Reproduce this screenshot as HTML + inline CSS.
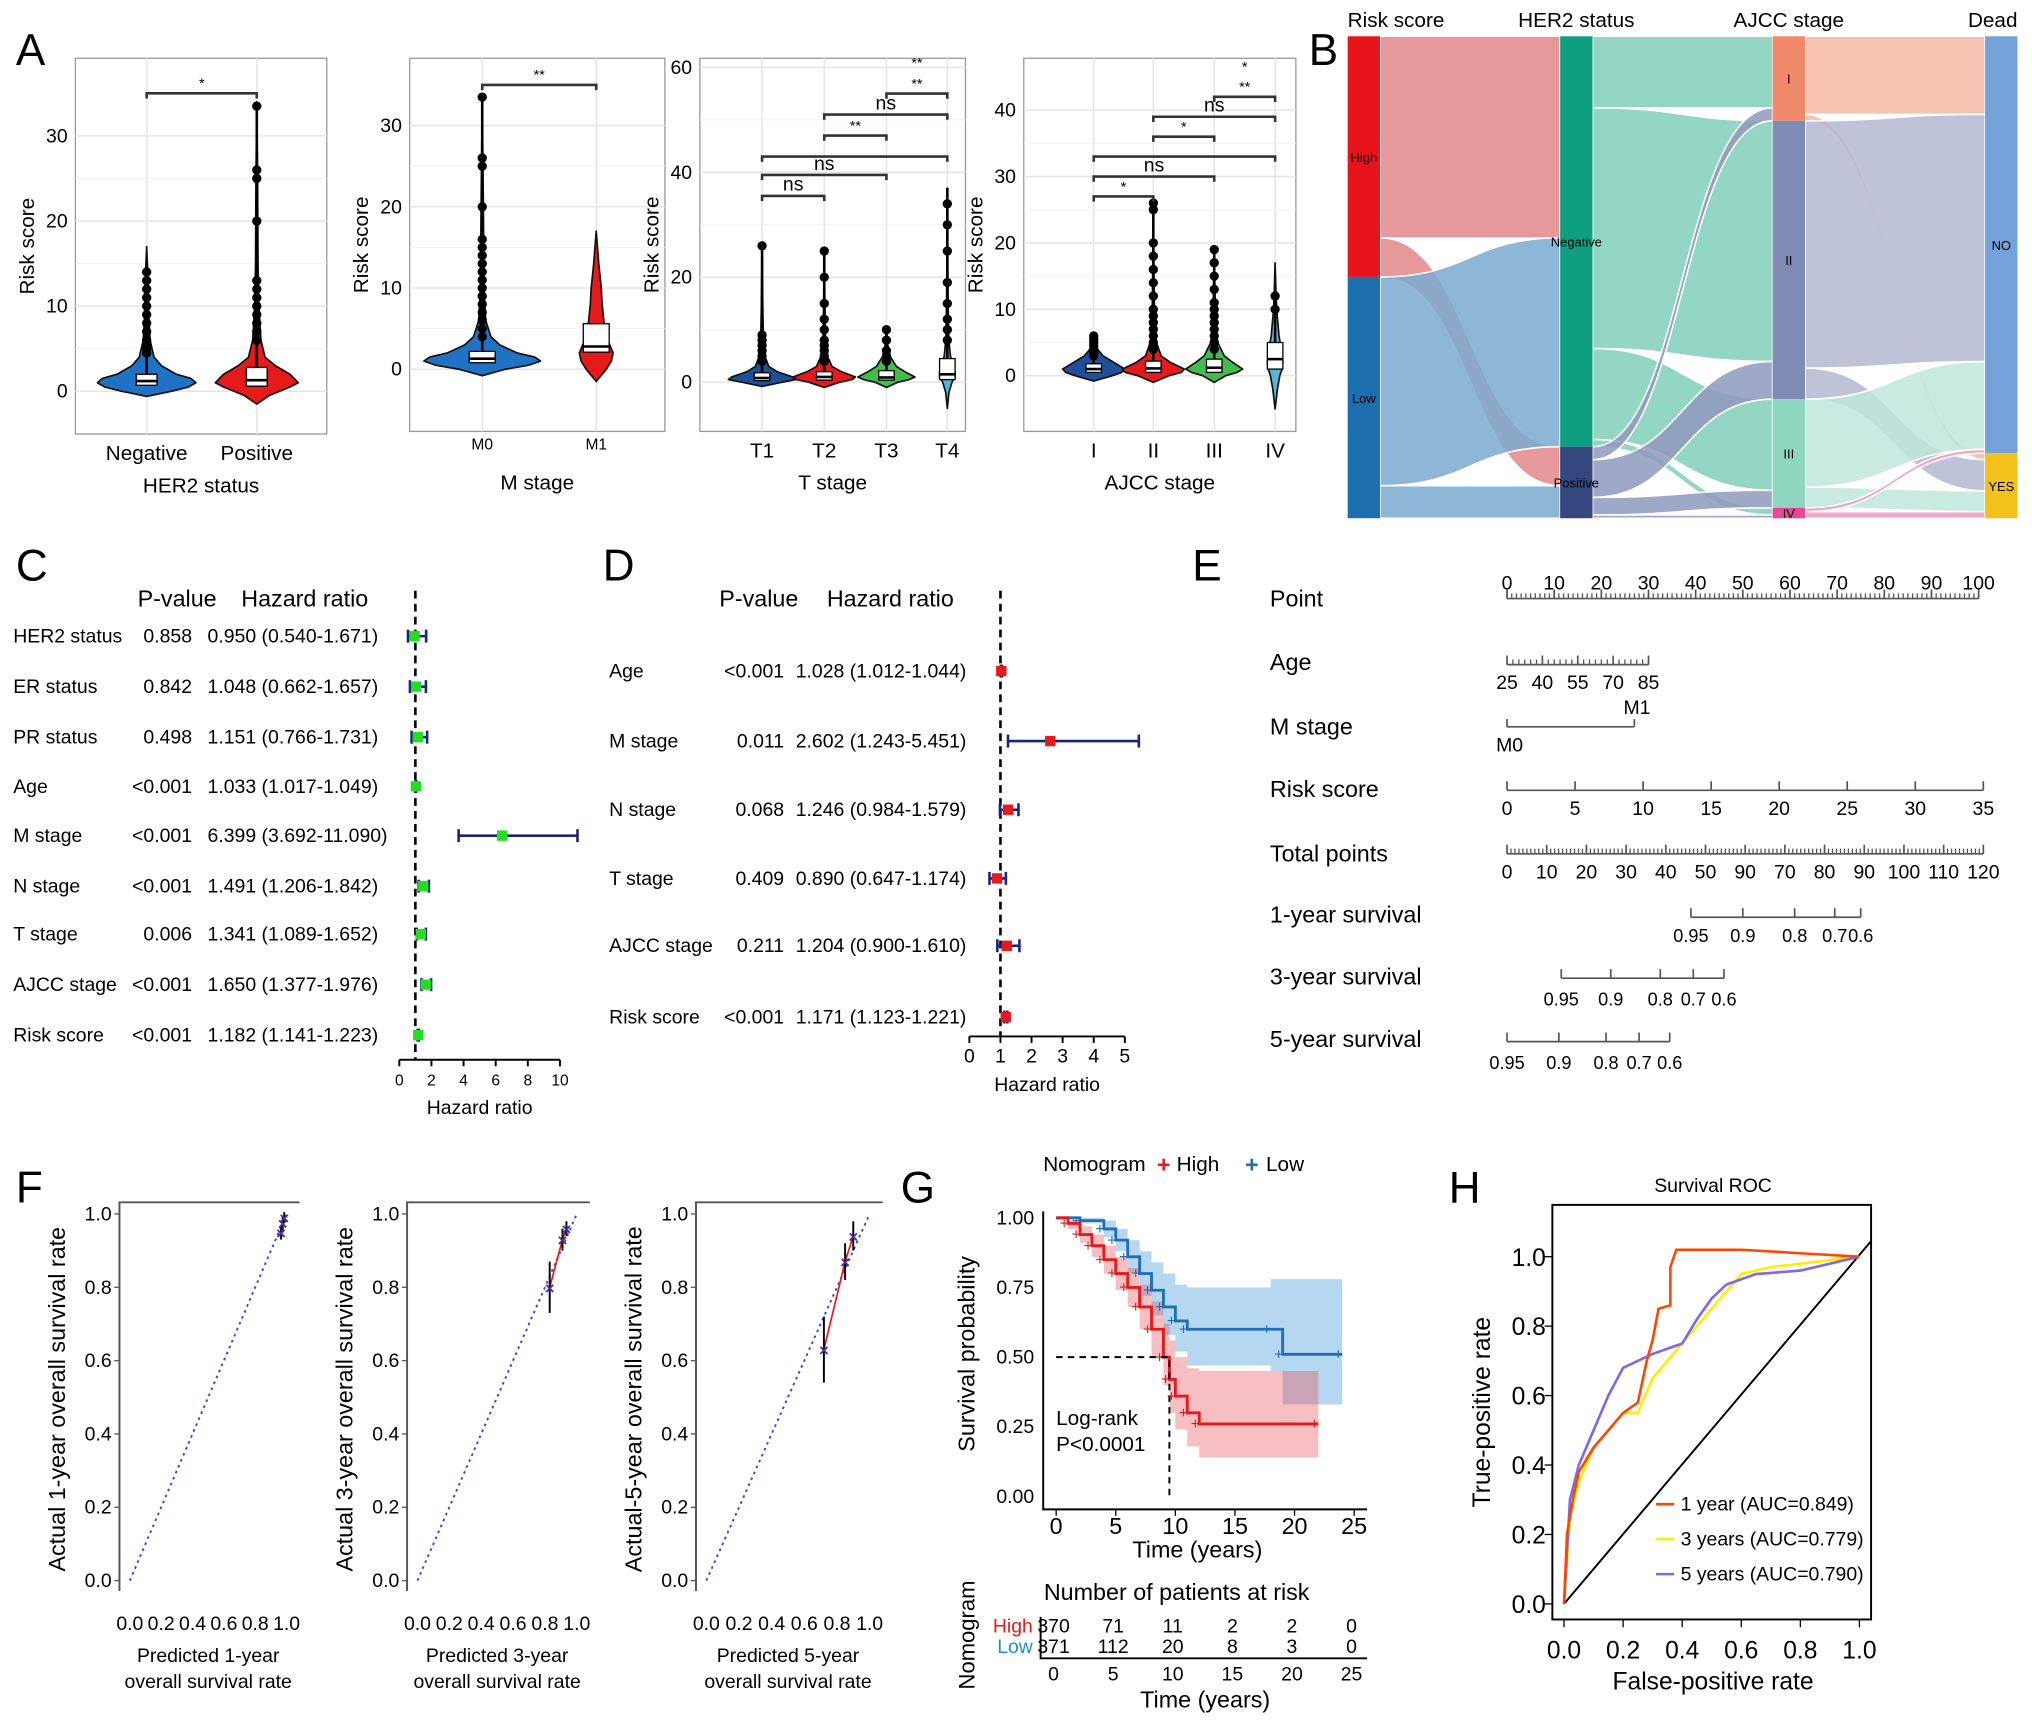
<!DOCTYPE html>
<html><head><meta charset="utf-8">
<style>
html,body{margin:0;padding:0;background:#fff;}
svg{display:block;font-family:"Liberation Sans",sans-serif;}
</style></head>
<body>
<svg id="fig" xmlns="http://www.w3.org/2000/svg" width="2032" height="1727" viewBox="0 0 1568 1333">
<rect x="0" y="0" width="1568" height="1333" fill="#fff"/>
<g font-size="34" fill="#000">
<text x="12" y="50">A</text>
<text x="1010" y="50">B</text>
<text x="12" y="448">C</text>
<text x="465" y="448">D</text>
<text x="920" y="448">E</text>
<text x="12" y="928">F</text>
<text x="695" y="928">G</text>
<text x="1118" y="928">H</text>
</g>
<g id="root"></g>
</svg>
<script>
// ---------- DATA ----------
const a1Categories=['Negative','Positive'];
const a1Ticks=[0,10,20,30];
const a1ViolinValues=[[-0.6,0,0.5,1,1.5,2,3,4,6,9,13,17],[-1.5,-0.5,0.5,1,2,3,4,6,10,15,25,34]];
const a1ViolinDensity=[[0,0.5,0.85,1,0.9,0.6,0.3,0.15,0.07,0.04,0.03,0],[0,0.3,0.8,1,0.8,0.45,0.2,0.1,0.05,0.03,0.02,0]];
const a1Q1=[0.7,0.6], a1Median=[1.2,1.3], a1Q3=[2.0,2.8], a1Max=[14,33.5];
const a1Outliers=[[4.5,5,5.5,6,7,8,9,10,11,12,13,14],[6,7,8,9,10,11,12,13,20,25,26,33.5]];
const a1Brackets=[[0,1,35,'*']];
const a2Categories=['M0','M1'];
const a2Ticks=[0,10,20,30];
const a2ViolinValues=[[-0.8,0,0.5,1,1.5,2,3,4,6,10,20,33],[-1.5,0,1,2,3,4,6,8,10,13,17]];
const a2ViolinDensity=[[0,0.4,0.8,1,0.9,0.6,0.3,0.15,0.06,0.03,0.02,0],[0,0.6,0.9,1,0.8,0.6,0.45,0.35,0.3,0.15,0]];
const a2Q1=[0.8,2.1], a2Median=[1.3,2.8], a2Q3=[2.2,5.6], a2Max=[33.5,5.6];
const a2Outliers=[[4,5,6,7,8,9,10,11,12,13,14,15,16,20,25,26,33.5],[]];
const a2Brackets=[[0,1,35,'**']];
const a3Categories=['T1','T2','T3','T4'];
const a3Ticks=[0,20,40,60];
const a3ViolinValues=[[-0.8,0,0.5,1,2,3,5,8,15,26],[-1,0,0.5,1,2,3,5,8,15,25],[-1,0,0.5,1,2,3,5,7,10],[-5,-2,0,1,2,3,5,8,15,25,37]];
const a3ViolinDensity=[[0,0.6,1,0.9,0.45,0.2,0.08,0.04,0.02,0],[0,0.5,0.9,1,0.55,0.25,0.1,0.04,0.02,0],[0,0.4,0.8,1,0.65,0.35,0.12,0.05,0],[0,0.1,0.3,0.5,0.5,0.4,0.2,0.1,0.05,0.02,0]];
const a3Q1=[0.3,0.4,0.4,0.5], a3Median=[0.8,1,0.9,1.5], a3Q3=[1.8,2,2.2,4.5], a3Max=[26,25,10,37];
const a3Outliers=[[4,5,6,7,8,9,26],[4,5,6,7,8,10,12,15,20,25],[4,5,6,8,10],[8,10,12,15,19,25,30,34]];
const a3Brackets=[[0,1,35.5,'ns'],[0,2,39.5,'ns'],[0,3,43,''],[1,2,47,'**'],[1,3,51,'ns'],[2,3,55,'**'],[2,3,59,'**',1]];
const a4Categories=['I','II','III','IV'];
const a4Ticks=[0,10,20,30,40];
const a4ViolinValues=[[-0.8,0,0.5,1,2,3,4,5,6],[-1,0,0.5,1,2,3,5,8,15,26],[-1,0,0.5,1,2,3,5,8,12,19],[-5,-2,0,1,2,4,6,10,13,17]];
const a4ViolinDensity=[[0,0.6,0.9,1,0.65,0.3,0.12,0.05,0],[0,0.5,0.9,1,0.55,0.25,0.1,0.04,0.02,0],[0,0.4,0.8,1,0.65,0.35,0.12,0.05,0.03,0],[0,0.15,0.3,0.45,0.5,0.4,0.25,0.1,0.05,0]];
const a4Q1=[0.5,0.5,0.5,1], a4Median=[1,1.1,1.2,2.5], a4Q3=[1.8,2.2,2.5,5], a4Max=[6,26,19,12];
const a4Outliers=[[3,3.5,4,4.5,5,5.5,6],[4,5,6,7,8,9,10,12,14,16,18,20,25,26],[4,5,6,7,8,9,10,11,13,15,17,19],[10,12]];
const a4Brackets=[[0,1,27,'*'],[0,2,30,'ns'],[0,3,33,''],[1,2,36,'*'],[1,3,39,'ns'],[2,3,42,'**'],[2,3,45,'*',1]];
const bColumns=['Risk score','HER2 status','AJCC stage','Dead'];
const bNodes=[['High','Low'],['Negative','Positive'],['I','II','III','IV'],['NO','YES']];
const bCounts=[[370,371],[631,110],[130,428,167,16],[641,100]];
const bFlows1=[[310,60],[321,50]];
const bFlows2=[[110,370,140,11],[20,58,27,5]];
const bFlows3=[[120,10],[380,48],[135,32],[6,10]];
const cVars=['HER2 status','ER status','PR status','Age','M stage','N stage','T stage','AJCC stage','Risk score'];
const cPvals=['0.858','0.842','0.498','<0.001','<0.001','<0.001','0.006','<0.001','<0.001'];
const cHR=[0.950,1.048,1.151,1.033,6.399,1.491,1.341,1.650,1.182];
const cLo=[0.540,0.662,0.766,1.017,3.692,1.206,1.089,1.377,1.141];
const cHi=[1.671,1.657,1.731,1.049,11.090,1.842,1.652,1.976,1.223];
const cTicks=[0,2,4,6,8,10];
const dVars=['Age','M stage','N stage','T stage','AJCC stage','Risk score'];
const dPvals=['<0.001','0.011','0.068','0.409','0.211','<0.001'];
const dHR=[1.028,2.602,1.246,0.890,1.204,1.171];
const dLo=[1.012,1.243,0.984,0.647,0.900,1.123];
const dHi=[1.044,5.451,1.579,1.174,1.610,1.221];
const dTicks=[0,1,2,3,4,5];
const ePointTicks=[0,10,20,30,40,50,60,70,80,90,100];
const eAgeTicks=[25,40,55,70,85];
const eRiskTicks=[0,5,10,15,20,25,30,35];
const eTotalTicks=[0,10,20,30,40,50,90,70,80,90,100,110,120];
const eSurv1Labels=['0.95','0.9','0.8','0.7','0.6'];
const eSurv1Points=[39,50,61,69.5,75];
const eSurv3Labels=['0.95','0.9','0.8','0.7','0.6'];
const eSurv3Points=[11.5,22,32.5,39.5,46];
const eSurv5Labels=['0.95','0.9','0.8','0.7','0.6'];
const eSurv5Points=[0,11,21,28,34.5];
const fTicks=[0,0.2,0.4,0.6,0.8,1.0];
const f1Pred=[0.965,0.975,0.985], f1Act=[0.95,0.975,0.99], f1Err=[0.02,0.02,0.015];
const f2Pred=[0.83,0.91,0.935], f2Act=[0.80,0.93,0.96], f2Err=[0.07,0.03,0.02];
const f3Pred=[0.72,0.85,0.9], f3Act=[0.63,0.87,0.94], f3Err=[0.09,0.05,0.04];
const gTicksX=[0,5,10,15,20,25];
const gTicksY=[0,0.25,0.5,0.75,1.0];
const gHighT=[0,1,2,3,4,5,6,7,8,9,9.5,10,11,12,22];
const gHighS=[1,0.98,0.94,0.9,0.85,0.8,0.75,0.68,0.6,0.5,0.42,0.36,0.3,0.26,0.26];
const gHighLo=[1,0.96,0.91,0.86,0.8,0.74,0.68,0.6,0.5,0.4,0.3,0.24,0.18,0.14,0.14];
const gHighHi=[1,0.99,0.97,0.94,0.9,0.86,0.82,0.76,0.7,0.62,0.56,0.5,0.46,0.45,0.45];
const gLowT=[0,2,4,5,6,7,8,9,10,11,18,19,24];
const gLowS=[1,0.99,0.96,0.92,0.86,0.8,0.74,0.68,0.63,0.6,0.6,0.51,0.51];
const gLowLo=[1,0.98,0.93,0.88,0.8,0.72,0.65,0.58,0.52,0.47,0.45,0.33,0.33];
const gLowHi=[1,1,0.99,0.96,0.92,0.88,0.84,0.8,0.76,0.75,0.78,0.78,0.78];
const gAtRiskHigh=[370,71,11,2,2,0];
const gAtRiskLow=[371,112,20,8,3,0];
const hTicks=[0,0.2,0.4,0.6,0.8,1.0];
const h1Fpr=[0,0.01,0.03,0.05,0.1,0.15,0.2,0.25,0.28,0.3,0.32,0.36,0.36,0.38,0.45,0.6,0.8,1];
const h1Tpr=[0,0.2,0.3,0.38,0.45,0.5,0.55,0.58,0.7,0.76,0.85,0.86,0.97,1.02,1.02,1.02,1.01,1];
const h3Fpr=[0,0.02,0.05,0.1,0.15,0.2,0.25,0.3,0.35,0.4,0.45,0.5,0.55,0.6,0.7,0.8,1];
const h3Tpr=[0,0.25,0.35,0.45,0.5,0.55,0.55,0.65,0.7,0.75,0.8,0.85,0.9,0.95,0.97,0.98,1];
const h5Fpr=[0,0.02,0.05,0.1,0.15,0.2,0.3,0.4,0.45,0.5,0.55,0.65,0.8,1];
const h5Tpr=[0,0.3,0.4,0.5,0.6,0.68,0.72,0.75,0.82,0.88,0.92,0.95,0.96,1];
const hLegend=['1 year (AUC=0.849)','3 years (AUC=0.779)','5 years (AUC=0.790)'];

// ---------- HELPERS ----------
const NS='http://www.w3.org/2000/svg';
const root=document.getElementById('root');
function mk(tag,attrs,parent){const e=document.createElementNS(NS,tag);for(const k in attrs)e.setAttribute(k,attrs[k]);(parent||root).appendChild(e);return e;}
function tx(x,y,s,size,anchor,parent,extra){const e=mk('text',Object.assign({x:x,y:y,'font-size':size,'text-anchor':anchor||'start',fill:'#000'},extra||{}),parent);e.textContent=s;return e;}

// ---------- PANEL A ----------
function violinPanel(L,cats,ticks,vv,vd,q1,med,q3,mx,outl,brk){
  const g=mk('g',{});
  
  
  const ys=v=>L.y0-v*L.k;
  const bg=mk('rect',{x:L.x0,y:L.top,width:L.x1-L.x0,height:L.bot-L.top,fill:'#fff',stroke:'#999','stroke-width':1},g);
  
  
  for(let i=0;i<ticks.length;i++){
    const gl=mk('line',{x1:L.x0,x2:L.x1,y1:ys(ticks[i]),y2:ys(ticks[i]),stroke:'#e6e6e6','stroke-width':1.2},g);
    
    
    if(i<ticks.length-1){const m=(ticks[i]+ticks[i+1])/2;const gm=mk('line',{x1:L.x0,x2:L.x1,y1:ys(m),y2:ys(m),stroke:'#f2f2f2','stroke-width':0.8},g);
      
      }
    const t=tx(L.x0-6,ys(ticks[i])+5,String(ticks[i]),15,'end',g);
    
    
  }
  for(let c=0;c<cats.length;c++){
    const cx=L.xs[c];
    const vl=mk('line',{x1:cx,x2:cx,y1:L.top,y2:L.bot,stroke:'#e6e6e6','stroke-width':1.2},g);
    
    
  }
  for(let c=0;c<cats.length;c++){
    const cx=L.xs[c];const v=vv[c],d=vd[c];const w=L.w[c];
    let p='M'+(cx+d[0]*w)+','+ys(v[0]);
    for(let i=1;i<v.length;i++)p+=' L'+(cx+d[i]*w)+','+ys(v[i]);
    for(let i=v.length-1;i>=0;i--)p+=' L'+(cx-d[i]*w)+','+ys(v[i]);
    const vio=mk('path',{d:p+'Z',fill:L.colors[c],stroke:'#111','stroke-width':1.3,'stroke-linejoin':'round'},g);
    
    
    const wh=mk('line',{x1:cx,x2:cx,y1:ys(q3[c]),y2:ys(mx[c]),stroke:'#000','stroke-width':2},g);
    
    
    for(const o of outl[c]){const dot=mk('circle',{cx:cx,cy:ys(o),r:3.6,fill:'#000'},g);
      
      }
    const bw=L.bw;
    const bx=mk('rect',{x:cx-bw/2,y:ys(q3[c]),width:bw,height:Math.max(2,ys(q1[c])-ys(q3[c])),fill:'#fff',stroke:'#000','stroke-width':1},g);
    
    
    const md=mk('line',{x1:cx-bw/2,x2:cx+bw/2,y1:ys(med[c]),y2:ys(med[c]),stroke:'#000','stroke-width':2},g);
    
    
    const tl=tx(cx,L.bot+(L.small?14:20),cats[c],L.small?12:16,'middle',g);
    
    
  }
  for(const b of brk){
    const y=ys(b[2]);const xa=L.xs[b[0]],xb=L.xs[b[1]];
    if(!b[4]){
      const bl=mk('path',{d:'M'+xa+','+(y+4)+' L'+xa+','+y+' L'+xb+','+y+' L'+xb+','+(y+4),fill:'none',stroke:'#333','stroke-width':2},g);
      
      
    }
    if(b[3]){const st=tx((xa+xb)/2,y-(b[3]==='ns'?4:-2)-(b[3]==='ns'?0:6),b[3],b[3]==='ns'?15:11,'middle',g);
      
      }
  }
  const xt=tx((L.x0+L.x1)/2,L.bot+45,L.xtitle,16,'middle',g);
  
  
  const yt=tx(0,0,'Risk score',16,'middle',g,{transform:'translate('+(L.x0-32)+','+((L.top+L.bot)/2)+') rotate(-90)'});
  
  
}
violinPanel({name:'panel-a-her2',x0:58,x1:252,top:45,bot:335,y0:302,k:6.57,xs:[113,198],w:[38,32],bw:16,colors:['#1f72c4','#e41a1c'],xtitle:'HER2 status'},a1Categories,a1Ticks,a1ViolinValues,a1ViolinDensity,a1Q1,a1Median,a1Q3,a1Max,a1Outliers,a1Brackets);
violinPanel({name:'panel-a-mstage',x0:316,x1:513,top:45,bot:333,y0:285,k:6.27,xs:[372,460],w:[45,13],bw:20,small:true,colors:['#1f72c4','#e41a1c'],xtitle:'M stage'},a2Categories,a2Ticks,a2ViolinValues,a2ViolinDensity,a2Q1,a2Median,a2Q3,a2Max,a2Outliers,a2Brackets);
violinPanel({name:'panel-a-tstage',x0:540,x1:745,top:45,bot:333,y0:295,k:4.05,xs:[588,636,684,731],w:[26,24,22,12],bw:12,colors:['#1f4f9a','#e41a1c','#3fbf4a','#56b4d9'],xtitle:'T stage'},a3Categories,a3Ticks,a3ViolinValues,a3ViolinDensity,a3Q1,a3Median,a3Q3,a3Max,a3Outliers,a3Brackets);
violinPanel({name:'panel-a-ajcc',x0:790,x1:1000,top:45,bot:333,y0:290,k:5.125,xs:[844,890,937,984],w:[24,24,22,12],bw:12,colors:['#1f4f9a','#e41a1c','#3fbf4a','#56b4d9'],xtitle:'AJCC stage'},a4Categories,a4Ticks,a4ViolinValues,a4ViolinDensity,a4Q1,a4Median,a4Q3,a4Max,a4Outliers,a4Brackets);

// ---------- PANEL B ----------
(function(){
  const g=mk('g',{});
  
  
  const colX=[1040,1204,1368,1532], nw=25, top=28, total=741, H=372;
  const k=H/total;
  const nodeCol=[['#e8141c','#1e6fb0'],['#0e9e80','#34477f'],['#f08a6a','#7f8bb5','#8fd6c0','#e9489a'],['#76a2da','#f2c21b']];
  const flowCol=[['#e3868a','#7aaad0'],['#7fcfb8','#8f99bd'],['#f4b9a6','#b3b9d1','#bfe6da','#f09abf']];
  const nodeY=[];
  for(let c=0;c<4;c++){nodeY.push([]);let y=top;for(let n=0;n<bCounts[c].length;n++){nodeY[c].push(y);y+=bCounts[c][n]*k;}}
  const flows=[bFlows1,bFlows2,bFlows3];
  for(let c=0;c<3;c++){
    const F=flows[c];
    const x0=colX[c]+nw, x1=colX[c+1], xm=(x0+x1)/2;
    const outO=nodeY[c].slice(), inO=nodeY[c+1].slice();
    for(let s=0;s<F.length;s++){
      for(let t=0;t<F[s].length;t++){
        const h=F[s][t]*k;
        const ya=outO[s], yb=inO[t];
        outO[s]+=h; inO[t]+=h;
        const d='M'+x0+','+ya+' C'+xm+','+ya+' '+xm+','+yb+' '+x1+','+yb+' L'+x1+','+(yb+h)+' C'+xm+','+(yb+h)+' '+xm+','+(ya+h)+' '+x0+','+(ya+h)+'Z';
        const fp=mk('path',{d:d,fill:flowCol[c][s],'fill-opacity':0.85,stroke:'#fff','stroke-width':1.2},g);
        
        
      }
    }
  }
  for(let c=0;c<4;c++){
    for(let n=0;n<bCounts[c].length;n++){
      const h=bCounts[c][n]*k;
      const r=mk('rect',{x:colX[c],y:nodeY[c][n],width:nw,height:h,fill:nodeCol[c][n]},g);
      
      
      const lb=tx(colX[c]+nw/2,nodeY[c][n]+h/2+4,bNodes[c][n],10,'middle',g,{'font-size':10});
      
      
    }
    const ct=tx(colX[c]+(c===3?nw:(c===0?0:nw/2)),21,bColumns[c],16,c===3?'end':(c===0?'start':'middle'),g);
    
    
  }
})();

// ---------- FOREST PLOTS ----------
function forest(name,vars,pv,hr,lo,hi,ticks,L){
  const g=mk('g',{});
  
  
  const xs=v=>L.ax0+v*L.k;
  const h1=tx(L.px,L.hy,'P-value',18,'start',g);
  
  
  const h2=tx(L.hrx+L.hrhead,L.hy,'Hazard ratio',18,'start',g);
  
  
  const dl=mk('line',{x1:xs(1),x2:xs(1),y1:L.hy-12,y2:L.axy,stroke:'#000','stroke-width':2,'stroke-dasharray':'6,4'},g);
  
  
  for(let i=0;i<vars.length;i++){
    const y=L.rows[i];
    const a=tx(L.lx,y+5,vars[i],15,'start',g);
    
    
    const b=tx(L.px+L.pw,y+5,pv[i],15,'end',g);
    
    
    const c=tx(L.hrx,y+5,hr[i].toFixed(3)+' ('+lo[i].toFixed(3)+'-'+hi[i].toFixed(3)+')',15,'start',g);
    
    
    const ci=mk('line',{x1:xs(lo[i]),x2:xs(hi[i]),y1:y,y2:y,stroke:'#1a237e','stroke-width':2},g);
    
    
    for(const e of [lo[i],hi[i]]){const cap=mk('line',{x1:xs(e),x2:xs(e),y1:y-5,y2:y+5,stroke:'#1a237e','stroke-width':2},g);
      
      }
    const sq=mk('rect',{x:xs(hr[i])-4,y:y-4,width:8,height:8,fill:L.color},g);
    
    
  }
  const ax=mk('line',{x1:xs(ticks[0]),x2:xs(ticks[ticks.length-1]),y1:L.axy,y2:L.axy,stroke:'#000','stroke-width':1.5},g);
  
  
  for(const t of ticks){
    const tk=mk('line',{x1:xs(t),x2:xs(t),y1:L.axy,y2:L.axy+5,stroke:'#000','stroke-width':1.5},g);
    
    
    const tl=tx(xs(t),L.axy+20,String(t),L.tfs,'middle',g);
    
    
  }
  const ttl=tx((xs(ticks[0])+xs(ticks[ticks.length-1]))/2,L.axy+42,'Hazard ratio',15,'middle',g);
  
  
}
forest('panel-c-univariate-forest',cVars,cPvals,cHR,cLo,cHi,cTicks,{lx:10,px:106,pw:42,hrx:160,hrhead:26,hy:468,rows:[491,530,569,607,645,684,721,760,799],ax0:308,k:12.4,axy:818,color:'#22dd22',tfs:12});
forest('panel-d-multivariate-forest',dVars,dPvals,dHR,dLo,dHi,dTicks,{lx:470,px:555,pw:50,hrx:614,hrhead:24,hy:468,rows:[518,572,625,678,730,785],ax0:748,k:24,axy:800,color:'#e41a1c',tfs:15});

// ---------- PANEL E NOMOGRAM ----------
(function(){
  const g=mk('g',{});
  
  
  const X0=1163, P=3.64;
  const px=p=>X0+p*P;
  const labels=['Point','Age','M stage','Risk score','Total points','1-year survival','3-year survival','5-year survival'];
  const ly=[462,511,561,609,659,706,754,802];
  for(let i=0;i<labels.length;i++){const t=tx(980,ly[i]+6,labels[i],18,'start',g);
    
    }
  function scale(x0,x1,y,ticks,tickx,labelY,minor,fs){
    const l=mk('line',{x1:x0,x2:x1,y1:y,y2:y,stroke:'#555','stroke-width':1.3},g);
    
    
    if(minor){for(let x=x0;x<=x1+0.1;x+=minor){const m=mk('line',{x1:x,x2:x,y1:y,y2:y-4,stroke:'#555','stroke-width':1},g);
      
      }}
    for(let i=0;i<ticks.length;i++){
      const tk=mk('line',{x1:tickx[i],x2:tickx[i],y1:y,y2:y-7,stroke:'#555','stroke-width':1.3},g);
      
      
      const t=tx(tickx[i],labelY,String(ticks[i]),fs||15,'middle',g);
      
      
    }
  }
  scale(px(0),px(100),462,ePointTicks,ePointTicks.map(v=>px(v)),455,P,15);
  scale(px(0),px(30),513,eAgeTicks,eAgeTicks.map(v=>px((v-25)*30/60)),532,P*1.25,15);
  const ml=mk('line',{x1:px(0),x2:px(27),y1:561,y2:561,stroke:'#555','stroke-width':1.3},g);
  
  
  for(const p of [0,27]){const mt=mk('line',{x1:px(p),x2:px(p),y1:561,y2:555,stroke:'#555','stroke-width':1.3},g);
    
    }
  const m1=tx(px(27)+2,551,'M1',15,'middle',g);
  
  
  const m0=tx(px(0)+2,580,'M0',15,'middle',g);
  
  
  scale(px(0),px(101),610,eRiskTicks,eRiskTicks.map(v=>px(v*101/35)),629,null,15);
  scale(px(0),px(101),659,eTotalTicks,eTotalTicks.map((v,i)=>px(i*101/12)),678,P/1.2*1.01,15);
  scale(px(eSurv1Points[0]),px(eSurv1Points[4]),708,eSurv1Labels,eSurv1Points.map(v=>px(v)),727,null,14);
  scale(px(eSurv3Points[0]),px(eSurv3Points[4]),755,eSurv3Labels,eSurv3Points.map(v=>px(v)),776,null,14);
  scale(px(eSurv5Points[0]),px(eSurv5Points[4]),804,eSurv5Labels,eSurv5Points.map(v=>px(v)),825,null,14);
})();

// ---------- PANEL F CALIBRATION ----------
function calib(name,pred,act,err,L,ylab,xl1,xl2){
  const g=mk('g',{});
  
  
  const xs=v=>L.x0+v*L.kx, ys=v=>1220-v*283;
  const fr=mk('path',{d:'M'+(L.x0-8)+',1228 L'+(L.x0-8)+',928 L'+(L.x0+L.kx+10)+',928',fill:'none',stroke:'#555','stroke-width':1.5},g);
  
  
  const dg=mk('line',{x1:xs(0),y1:ys(0),x2:xs(1.0),y2:ys(1.0),stroke:'#4444cc','stroke-width':1.5,'stroke-dasharray':'2,3'},g);
  
  
  for(const t of fTicks){
    const yl=tx(L.x0-14,ys(t)+5,t.toFixed(1),15,'end',g);
    
    
    const ytk=mk('line',{x1:L.x0-8,x2:L.x0-12,y1:ys(t),y2:ys(t),stroke:'#555'},g);
    
    
    const xl=tx(xs(t),1258,t.toFixed(1),15,'middle',g);
    
    
  }
  let d='';
  for(let i=0;i<pred.length;i++)d+=(i?' L':'M')+xs(pred[i])+','+ys(act[i]);
  const ln=mk('path',{d:d,fill:'none',stroke:'#e41a1c','stroke-width':1.3},g);
  
  
  for(let i=0;i<pred.length;i++){
    const eb=mk('line',{x1:xs(pred[i]),x2:xs(pred[i]),y1:ys(act[i]-err[i]),y2:ys(act[i]+err[i]),stroke:'#000','stroke-width':1.5},g);
    
    
    const pt=tx(xs(pred[i]),ys(act[i])+5,'×',13,'middle',g,{fill:'#4b2ea0','font-weight':'bold'});
    
    
  }
  const yt=tx(0,0,ylab,18,'middle',g,{transform:'translate('+(L.x0-50)+',1080) rotate(-90)'});
  
  
  const x1=tx(xs(0.5),1283,xl1,15,'middle',g);
  
  
  const x2=tx(xs(0.5),1303,xl2,15,'middle',g);
  
  
}
calib('panel-f-calibration-1yr',f1Pred,f1Act,f1Err,{x0:100,kx:121},'Actual 1-year overall survival rate','Predicted 1-year','overall survival rate');
calib('panel-f-calibration-3yr',f2Pred,f2Act,f2Err,{x0:322,kx:123},'Actual 3-year overall survival rate','Predicted 3-year','overall survival rate');
calib('panel-f-calibration-5yr',f3Pred,f3Act,f3Err,{x0:545,kx:126},'Actual-5-year overall survival rate','Predicted 5-year','overall survival rate');

// ---------- PANEL G KM ----------
(function(){
  const g=mk('g',{});
  
  
  const xs=t=>815+t*9.2, ys=s=>1155-s*215;
  function band(T,Lo,Hi,col,nm){
    let up='',dn='';
    for(let i=0;i<T.length;i++){const xn=i<T.length-1?xs(T[i+1]):xs(T[i]);up+=(i?' L':'M')+xs(T[i])+','+ys(Hi[i])+' L'+xn+','+ys(Hi[i]);}
    for(let i=T.length-1;i>=0;i--){const xn=i<T.length-1?xs(T[i+1]):xs(T[i]);dn+=' L'+xn+','+ys(Lo[i])+' L'+xs(T[i])+','+ys(Lo[i]);}
    const b=mk('path',{d:up+dn+'Z',fill:col,'fill-opacity':0.35},g);
    
    
  }
  function curve(T,S,col,nm){
    let d='';
    for(let i=0;i<T.length;i++){d+=(i?' L'+xs(T[i])+','+ys(S[i-1])+' L':'M')+xs(T[i])+','+ys(S[i]);}
    const c=mk('path',{d:d,fill:'none',stroke:col,'stroke-width':2.2},g);
    
    
    for(let i=1;i<T.length;i+=1){const cm=tx(xs(T[i])-3,ys(S[i])+4,'+',12,'middle',g,{fill:col});
      
      }
  }
  band(gLowT,gLowLo,gLowHi,'#2b8cd0','ci-band-low');
  band(gHighT,gHighLo,gHighHi,'#e8474c','ci-band-high');
  curve(gLowT,gLowS,'#1f6fb8','km-curve-low');
  curve(gHighT,gHighS,'#e41a1c','km-curve-high');
  const md=mk('path',{d:'M'+xs(0)+','+ys(0.5)+' L'+xs(9.5)+','+ys(0.5)+' L'+xs(9.5)+','+ys(0),fill:'none',stroke:'#000','stroke-width':1.5,'stroke-dasharray':'5,4'},g);
  
  
  const ax=mk('path',{d:'M805,935 L805,1165 L1055,1165',fill:'none',stroke:'#000','stroke-width':1.5},g);
  
  
  for(const t of gTicksY){const l=tx(798,ys(t)+5,t.toFixed(2),15,'end',g);
    
    }
  for(const t of gTicksX){const l=tx(xs(t),1184,String(t),18,'middle',g);
    
    
    const tk=mk('line',{x1:xs(t),x2:xs(t),y1:1165,y2:1170,stroke:'#000'},g);
    
    }
  const xt=tx(924,1202,'Time (years)',18,'middle',g);
  
  
  const yt=tx(0,0,'Survival probability',18,'middle',g,{transform:'translate(752,1045) rotate(-90)'});
  
  
  const lr=tx(815,1100,'Log-rank',16,'start',g);
  
  
  const lp=tx(815,1120,'P<0.0001',16,'start',g);
  
  
  const lg=tx(805,904,'Nomogram',16,'start',g);
  
  
  const k1=tx(898,905,'+',18,'middle',g,{fill:'#e41a1c','font-weight':'bold'});
  
  
  const l1=tx(908,904,'High',16,'start',g);
  
  
  const k2=tx(966,905,'+',18,'middle',g,{fill:'#1f6fb8','font-weight':'bold'});
  
  
  const l2=tx(977,904,'Low',16,'start',g);
  
  
  const rt=tx(908,1235,'Number of patients at risk',18,'middle',g);
  
  
  const rx=t=>813+t*9.2;
  for(let i=0;i<gAtRiskHigh.length;i++){
    const t=gTicksX[i];
    const a=tx(rx(t),1260,String(gAtRiskHigh[i]),15,'middle',g);
    
    
    const b=tx(rx(t),1276,String(gAtRiskLow[i]),15,'middle',g);
    
    
    const c=tx(rx(t),1297,String(t),15,'middle',g);
    
    
  }
  const rax=mk('path',{d:'M803,1248 L803,1280 L1055,1280',fill:'none',stroke:'#000','stroke-width':1.5},g);
  
  
  const rh=tx(797,1260,'High',15,'end',g,{fill:'#e41a1c'});
  
  
  const rl=tx(797,1276,'Low',15,'end',g,{fill:'#1f8fd0'});
  
  
  const rxt=tx(930,1318,'Time (years)',18,'middle',g);
  
  
  const ry=tx(0,0,'Nomogram',17,'middle',g,{transform:'translate(752,1262) rotate(-90)'});
  
  
})();

// ---------- PANEL H ROC ----------
(function(){
  const g=mk('g',{});
  
  
  const xs=v=>1207+v*228, ys=v=>1238-v*268;
  const fr=mk('rect',{x:1198,y:930,width:246,height:320,fill:'none',stroke:'#000','stroke-width':1.5},g);
  
  
  const dg=mk('line',{x1:1207,y1:1238,x2:1444,y2:958,stroke:'#000','stroke-width':1.5},g);
  
  
  const tt=tx(1322,920,'Survival ROC',15,'middle',g);
  
  
  const series=[[h3Fpr,h3Tpr,'#ffee00','roc-3-years'],[h5Fpr,h5Tpr,'#7b68ee','roc-5-years'],[h1Fpr,h1Tpr,'#ff4500','roc-1-year']];
  for(const s of series){
    let d='';for(let i=0;i<s[0].length;i++)d+=(i?' L':'M')+xs(s[0][i])+','+ys(s[1][i]);
    const p=mk('path',{d:d,fill:'none',stroke:s[2],'stroke-width':2},g);
    
    
  }
  for(const t of hTicks){
    const a=tx(1193,ys(t)+7,t.toFixed(1),19,'end',g);
    
    
    const b=tx(xs(t),1280,t.toFixed(1),19,'middle',g);
    
    
    const tk=mk('line',{x1:1198,x2:1192,y1:ys(t),y2:ys(t),stroke:'#000'},g);
    
    
    const tk2=mk('line',{x1:xs(t),x2:xs(t),y1:1250,y2:1256,stroke:'#000'},g);
    
    
  }
  const xt=tx(1322,1304,'False-positive rate',19,'middle',g);
  
  
  const yt=tx(0,0,'True-positive rate',19,'middle',g,{transform:'translate(1150,1090) rotate(-90)'});
  
  
  const lc=['#ff4500','#ffee00','#7b68ee'];
  for(let i=0;i<3;i++){
    const y=1166+i*27;
    const l=mk('line',{x1:1278,x2:1292,y1:y-5,y2:y-5,stroke:lc[i],'stroke-width':2},g);
    
    
    const t=tx(1297,y,hLegend[i],15,'start',g);
    
    
  }
})();
</script>
</body></html>
